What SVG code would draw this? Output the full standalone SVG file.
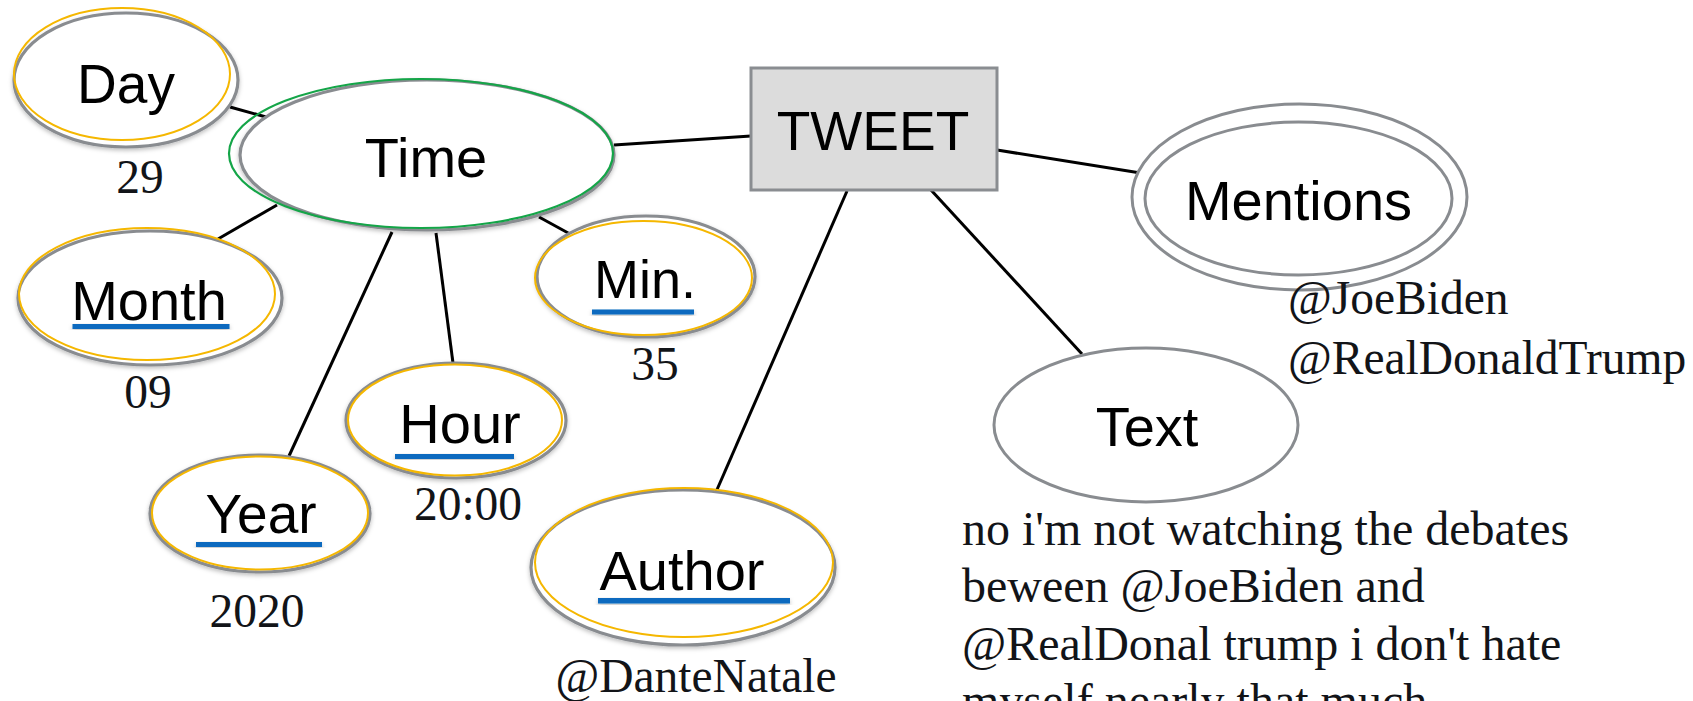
<svg xmlns="http://www.w3.org/2000/svg" width="1693" height="701" viewBox="0 0 1693 701">
  <style>
    .edge { stroke: #000; stroke-width: 3; fill: none; }
    .gray { fill: #fff; stroke: #898c90; stroke-width: 3.2; }
    .grayonly { fill: #fff; stroke: #898c90; stroke-width: 3; }
    .ring { fill: none; stroke: #898c90; stroke-width: 3; }
    .gold { fill: none; stroke: #f5b700; stroke-width: 2; }
    .green { fill: none; stroke: #14a548; stroke-width: 2.2; }
    .soft { filter: url(#shadow); }
    .lbl { font-family: "Liberation Sans", Arial, sans-serif; font-size: 55px; fill: #000; text-anchor: middle; }
    .val { font-family: "Liberation Serif", "Times New Roman", serif; font-size: 47.5px; fill: #121418; }
    .para { font-size: 48px; }
    .mid { text-anchor: middle; }
    .key { fill: #0a6bbf; }
  </style>
  <defs>
    <filter id="shadow" x="-10%" y="-10%" width="120%" height="130%">
      <feDropShadow dx="0" dy="2" stdDeviation="2" flood-color="#000" flood-opacity="0.25"/>
    </filter>
  </defs>

  <!-- relationship lines -->
  <g id="connectors">
    <line class="edge" x1="230" y1="107" x2="266" y2="117"/>
    <line class="edge" x1="277" y1="205" x2="218" y2="239"/>
    <line class="edge" x1="392" y1="232" x2="289" y2="456"/>
    <line class="edge" x1="436" y1="233" x2="453" y2="363"/>
    <line class="edge" x1="539" y1="217" x2="570" y2="234"/>
    <line class="edge" x1="614" y1="145" x2="751" y2="136"/>
    <line class="edge" x1="847" y1="191" x2="716" y2="492"/>
    <line class="edge" x1="931" y1="190" x2="1082" y2="354"/>
    <line class="edge" x1="997" y1="150" x2="1153" y2="175"/>
  </g>

  <!-- entity -->
  <g id="tweet">
    <rect x="751" y="68" width="246" height="122" fill="#dcdcdc" stroke="#8a8d91" stroke-width="3"/>
    <text class="lbl" x="873" y="150" font-size="54">TWEET</text>
  </g>

  <!-- composite attribute -->
  <g id="time">
    <ellipse class="gray soft" cx="427" cy="155" rx="187" ry="75"/>
    <ellipse class="green" cx="421" cy="153.5" rx="192" ry="74.5"/>
    <text class="lbl" x="426" y="177" style="font-size:56px">Time</text>
    <text class="val mid" x="140" y="193">29</text>
  </g>

  <g id="day">
    <ellipse class="gray soft" cx="126" cy="80" rx="112" ry="67"/>
    <ellipse class="gold" cx="122" cy="74" rx="108" ry="66"/>
    <text class="lbl" x="126" y="103">Day</text>
  </g>

  <g id="month">
    <ellipse class="gray soft" cx="150" cy="298" rx="132" ry="67"/>
    <ellipse class="gold" cx="147" cy="294" rx="128" ry="66"/>
    <text class="lbl" x="149" y="320" style="font-size:56px">Month</text>
    <rect class="key soft" x="72.5" y="324" width="157" height="5"/>
    <text class="val mid" x="148" y="408">09</text>
  </g>

  <g id="year">
    <ellipse class="gray soft" cx="260" cy="513.5" rx="110" ry="58.5"/>
    <ellipse class="gold" cx="260" cy="513" rx="108" ry="56.5"/>
    <text class="lbl" x="261" y="533">Year</text>
    <rect class="key soft" x="196" y="542" width="126" height="5"/>
    <text class="val mid" x="257" y="627">2020</text>
  </g>

  <g id="hour">
    <ellipse class="gray soft" cx="456" cy="420.5" rx="110" ry="57.5"/>
    <ellipse class="gold" cx="455" cy="420" rx="107" ry="55.5"/>
    <text class="lbl" x="460" y="443" style="font-size:56px">Hour</text>
    <rect class="key soft" x="395" y="454" width="119" height="5"/>
    <text class="val mid" x="468" y="520">20:00</text>
  </g>

  <g id="minute">
    <ellipse class="gray soft" cx="646" cy="276.5" rx="109" ry="60.5"/>
    <ellipse class="gold" cx="643.5" cy="278" rx="108.5" ry="57"/>
    <text class="lbl" x="645" y="298" style="font-size:54px">Min.</text>
    <rect class="key soft" x="592" y="309.5" width="102" height="5"/>
    <text class="val mid" x="655" y="380">35</text>
  </g>

  <g id="author">
    <ellipse class="gray soft" cx="683" cy="567.5" rx="152" ry="77.5"/>
    <ellipse class="gold" cx="684" cy="562.5" rx="149" ry="74.5"/>
    <text class="lbl" x="682" y="590" style="font-size:56px">Author</text>
    <rect class="key soft" x="598" y="598" width="192" height="5.5"/>
    <text class="val mid" x="696" y="692">@DanteNatale</text>
  </g>

  <!-- multivalued attribute -->
  <g id="mentions">
    <ellipse class="grayonly" cx="1299.5" cy="197" rx="167.5" ry="93"/>
    <ellipse class="ring" cx="1298.5" cy="198.5" rx="153.5" ry="76.5"/>
    <text class="lbl" x="1298.5" y="220" style="font-size:56px">Mentions</text>
    <text class="val" x="1288" y="314">@JoeBiden</text>
    <text class="val" x="1288" y="374">@RealDonaldTrump</text>
  </g>

  <g id="text">
    <ellipse class="grayonly" cx="1146" cy="425" rx="152" ry="77"/>
    <text class="lbl" x="1147" y="446" style="font-size:56px">Text</text>
    <text class="val para" x="962" y="545">no i'm not watching the debates</text>
    <text class="val para" x="962" y="602">beween @JoeBiden and</text>
    <text class="val para" x="962" y="660">@RealDonal trump i don't hate</text>
    <text class="val para" x="962" y="717">myself nearly that much</text>
  </g>
</svg>
